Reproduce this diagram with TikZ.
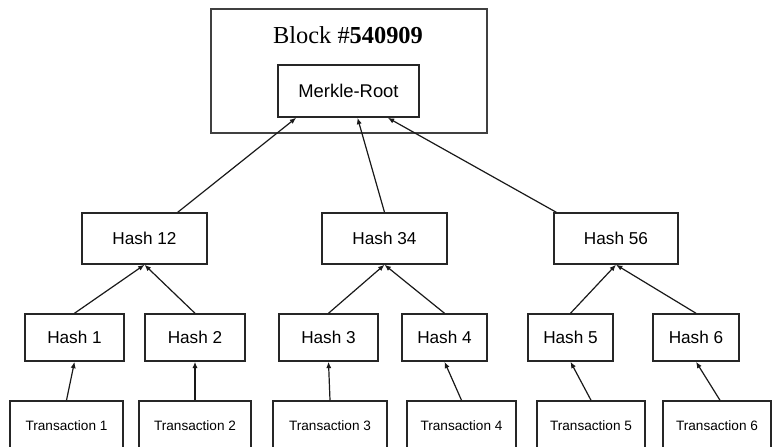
\documentclass[tikz,border=0pt]{standalone}
\usepackage{fontspec}
\setmainfont{Liberation Sans}
\newfontfamily\serifface{Liberation Serif}
\usepackage{tikz}
\usetikzlibrary{positioning,arrows.meta}
\tikzset{
  blockbox/.style={rectangle, draw=black!75, line width=0.8pt, minimum width=138pt, minimum height=62pt},
  rootbox/.style={rectangle, draw=black!85, line width=0.8pt, minimum width=70.5pt, minimum height=26pt, font=\fontsize{9.2}{11}\selectfont},
  hashbox/.style={rectangle, draw=black!85, line width=0.75pt, minimum height=25.5pt, font=\fontsize{8.6}{10}\selectfont},
  leafbox/.style={rectangle, draw=black!85, line width=0.75pt, minimum height=23.5pt, font=\fontsize{8.6}{10}\selectfont},
  txbox/.style={rectangle, draw=black!85, line width=0.75pt, minimum height=25pt, font=\fontsize{6.8}{8}\selectfont},
  up/.style={-{Latex[length=3.2pt,width=2.6pt]}, line width=0.6pt, black!90},
}
\begin{document}
\begin{tikzpicture}[x=0.5pt, y=-0.5pt]
  \path[use as bounding box, clip] (0,0) rectangle (772,446);

  % block header
  \node[blockbox] (block) at (349,71) {};
  \node[anchor=base] (title) at (348,43) {\fontsize{12.2}{14}\serifface Block \#\textbf{540909}};
  \node[rootbox] (root) at (348.5,91) {Merkle-Root};

  % second level
  \node[hashbox, minimum width=62.5pt] (hash12) at (144.5,238.5) {Hash 12};
  \node[hashbox, minimum width=62.5pt] (hash34) at (384.5,238.5) {Hash 34};
  \node[hashbox, minimum width=62pt] (hash56) at (616,238.5) {Hash 56};

  % leaf hashes
  \node[leafbox, minimum width=49.5pt] (hash1) at (74.5,337.5) {Hash 1};
  \node[leafbox, minimum width=50pt] (hash2) at (195,337.5) {Hash 2};
  \node[leafbox, minimum width=49.5pt] (hash3) at (328.5,337.5) {Hash 3};
  \node[leafbox, minimum width=42.5pt] (hash4) at (444.5,337.5) {Hash 4};
  \node[leafbox, minimum width=42.5pt] (hash5) at (570.5,337.5) {Hash 5};
  \node[leafbox, minimum width=43pt] (hash6) at (696,337.5) {Hash 6};

  % transactions
  \node[txbox, minimum width=56.5pt] (tx1) at (66.5,426) {Transaction 1};
  \node[txbox, minimum width=56pt] (tx2) at (195,426) {Transaction 2};
  \node[txbox, minimum width=57pt] (tx3) at (330,426) {Transaction 3};
  \node[txbox, minimum width=54.5pt] (tx4) at (461.5,426) {Transaction 4};
  \node[txbox, minimum width=54pt] (tx5) at (591,426) {Transaction 5};
  \node[txbox, minimum width=54pt] (tx6) at (717,426) {Transaction 6};

  \draw[up] (tx1.north) -- (hash1.south);
  \draw[up] (tx2.north) -- (hash2.south);
  \draw[up] (tx3.north) -- (hash3.south);
  \draw[up] (tx4.north) -- (hash4.south);
  \draw[up] (tx5.north) -- (hash5.south);
  \draw[up] ([xshift=1.5pt]tx6.north) -- (hash6.south);

  \draw[up] (hash1.north) -- (hash12.south);
  \draw[up] (hash2.north) -- (hash12.south);
  \draw[up] (hash3.north) -- (hash34.south);
  \draw[up] (hash4.north) -- (hash34.south);
  \draw[up] (hash5.north) -- (hash56.south);
  \draw[up] (hash6.north) -- (hash56.south);

  \draw[up] ([xshift=-15pt]hash12.north east) -- ([xshift=9.5pt]root.south west);
  \draw[up] (hash34.north) -- ([xshift=4.5pt]root.south);
  \draw[up] ([xshift=1.5pt]hash56.north west) -- ([xshift=-16pt]root.south east);

\end{tikzpicture}
\end{document}
